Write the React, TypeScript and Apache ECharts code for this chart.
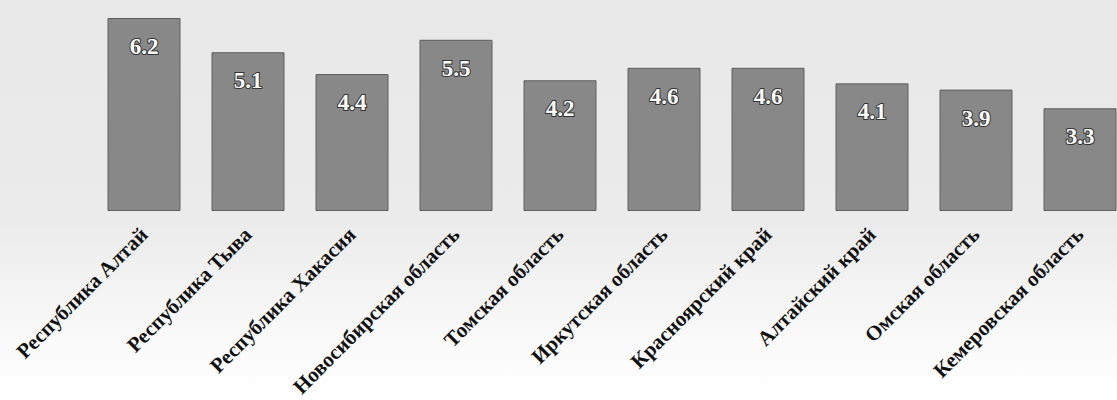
import React, { useEffect, useRef } from "react";
import * as echarts from "echarts";

const categories = [
  "Республика Алтай",
  "Республика Тыва",
  "Республика Хакасия",
  "Новосибирская область",
  "Томская область",
  "Иркутская область",
  "Красноярский край",
  "Алтайский край",
  "Омская область",
  "Кемеровская область",
];
const values = [6.2, 5.1, 4.4, 5.5, 4.2, 4.6, 4.6, 4.1, 3.9, 3.3];

export default function App() {
  const ref = useRef<HTMLDivElement>(null);
  useEffect(() => {
    if (!ref.current) return;
    const chart = echarts.init(ref.current, null, { renderer: "svg" });
    chart.setOption({
      animation: false,
      backgroundColor: {
        type: "linear",
        x: 0,
        y: 0,
        x2: 0,
        y2: 1,
        colorStops: [
          { offset: 0, color: "#e8e8e8" },
          { offset: 0.55, color: "#ebebeb" },
          { offset: 0.85, color: "#fafafa" },
          { offset: 1, color: "#ffffff" },
        ],
      },
      grid: {
        left: 92,
        width: 1040,
        top: 18,
        height: 193,
        outerBoundsMode: "none",
        containLabel: false,
      },
      xAxis: {
        type: "category",
        data: categories,
        axisLine: { show: false },
        axisTick: { show: false },
        axisLabel: {
          rotate: 45,
          interval: 0,
          margin: 20,
          fontFamily: "Liberation Serif",
          fontWeight: "bold",
          fontSize: 21,
          color: "#111",
        },
      },
      yAxis: {
        type: "value",
        min: 0,
        max: 6.2,
        show: false,
        splitLine: { show: false },
      },
      series: [
        {
          type: "bar",
          data: values,
          barWidth: 73,
          itemStyle: { color: "#888888", borderColor: "#5e5e5e", borderWidth: 1 },
          label: {
            show: true,
            position: "insideTop",
            distance: 17,
            fontFamily: "Liberation Serif",
            fontWeight: "bold",
            fontSize: 23,
            color: "#ffffff",
            textBorderColor: "#333333",
            textBorderWidth: 2,
            formatter: (p: any) => p.value.toFixed(1),
          },
        },
      ],
    });
    return () => chart.dispose();
  }, []);
  return (
    <div
      ref={ref}
      style={{ position: "fixed", left: 0, top: 0, width: 1117, height: 400 }}
    />
  );
}
